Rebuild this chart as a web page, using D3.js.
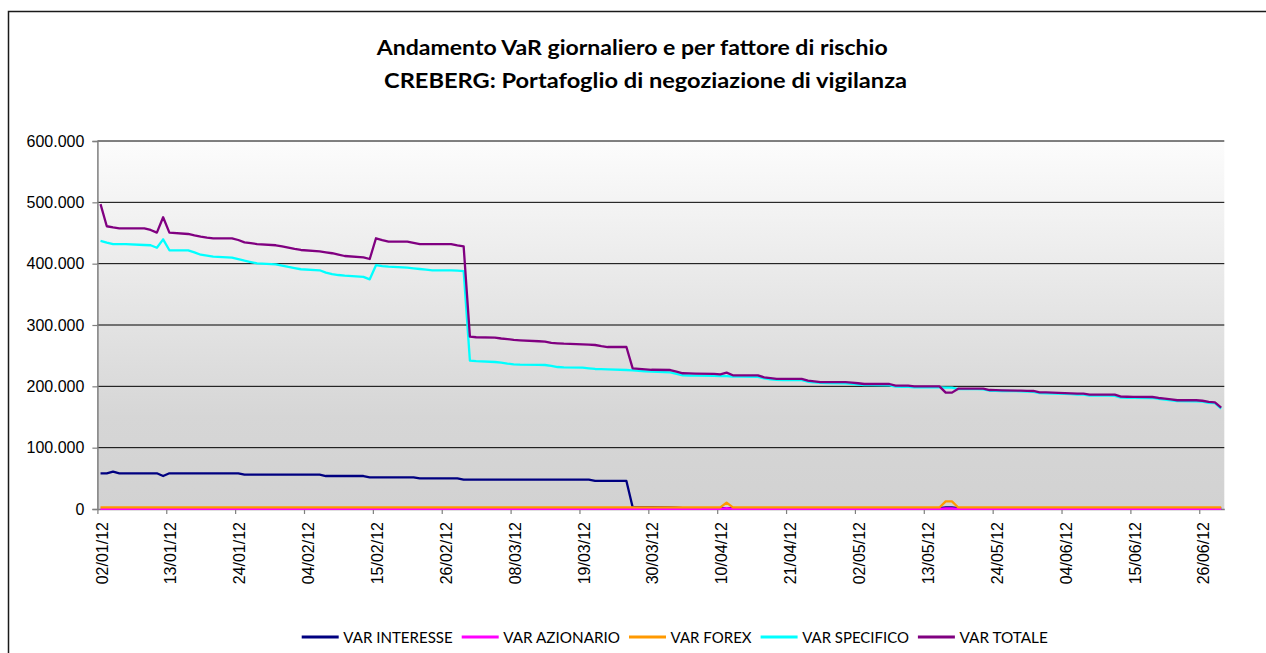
<!DOCTYPE html>
<meta charset="utf-8">
<script src="https://d3js.org/d3.v7.min.js"></script>
<style>
  body { margin: 0; background: #fff; }
  text { font-family: Lato, "Open Sans", sans-serif; fill: #000; }
</style>
<div id="chart"></div>
<script>

// working days of the first half of 2012
var dates = [
  "02/01/12","03/01/12","04/01/12","05/01/12","06/01/12","09/01/12","10/01/12","11/01/12","12/01/12","13/01/12","16/01/12","17/01/12","18/01/12","19/01/12","20/01/12","23/01/12","24/01/12","25/01/12","26/01/12","27/01/12","30/01/12","31/01/12",
  "01/02/12","02/02/12","03/02/12","06/02/12","07/02/12","08/02/12","09/02/12","10/02/12","13/02/12","14/02/12","15/02/12","16/02/12","17/02/12","20/02/12","21/02/12","22/02/12","23/02/12","24/02/12","27/02/12","28/02/12","29/02/12",
  "01/03/12","02/03/12","05/03/12","06/03/12","07/03/12","08/03/12","09/03/12","12/03/12","13/03/12","14/03/12","15/03/12","16/03/12","19/03/12","20/03/12","21/03/12","22/03/12","23/03/12","26/03/12","27/03/12","28/03/12","29/03/12","30/03/12",
  "02/04/12","03/04/12","04/04/12","05/04/12","06/04/12","09/04/12","10/04/12","11/04/12","12/04/12","13/04/12","16/04/12","17/04/12","18/04/12","19/04/12","20/04/12","23/04/12","24/04/12","25/04/12","26/04/12","27/04/12","30/04/12",
  "01/05/12","02/05/12","03/05/12","04/05/12","07/05/12","08/05/12","09/05/12","10/05/12","11/05/12","14/05/12","15/05/12","16/05/12","17/05/12","18/05/12","21/05/12","22/05/12","23/05/12","24/05/12","25/05/12","28/05/12","29/05/12","30/05/12","31/05/12",
  "01/06/12","04/06/12","05/06/12","06/06/12","07/06/12","08/06/12","11/06/12","12/06/12","13/06/12","14/06/12","15/06/12","18/06/12","19/06/12","20/06/12","21/06/12","22/06/12","25/06/12","26/06/12","27/06/12","28/06/12","29/06/12"
];

// values in thousands of euro
var varInteresse = [
  58.2,58.2,60.9,58.2,58.2,58.2,58.2,58.2,53.8,58.2,58.2,58.2,58.2,58.2,58.2,58.2,58.2,56,56,56,56,56,
  56,56,56,56,53.8,53.8,53.8,53.8,53.8,51.7,51.7,51.7,51.7,51.7,51.7,50,50,50,50,50,47.8,
  47.8,47.8,47.8,47.8,47.8,47.8,47.8,47.8,47.8,47.8,47.8,47.8,47.8,47.8,45.7,45.7,45.7,45.7,3,3,3,3,
  2.5,2,1.5,1.5,1.5,1.5,1.5,1.5,1.5,1.5,1.5,1.5,1.5,1.5,1.5,1.5,1.5,1.5,1.5,1.5,1.5,
  1.5,1.5,1.5,1.5,1.5,1.5,1.5,1.5,1.5,1.5,1.5,2.5,2.5,1.5,1.5,1.5,1.5,1.5,1.5,1.5,1.5,1.5,1.5,
  1.5,1.5,1.5,1.5,1.5,1.5,1.5,1.5,1.5,1.5,1.5,1.5,1.5,1.5,1.5,1.5,1.5,1.5,1.5,1.5,1.5
];
var varAzionario = [
  0.3,0.3,0.3,0.3,0.3,0.3,0.3,0.3,0.3,0.3,0.3,0.3,0.3,0.3,0.3,0.3,0.3,0.3,0.3,0.3,0.3,0.3,
  0.3,0.3,0.3,0.3,0.3,0.3,0.3,0.3,0.3,0.3,0.3,0.3,0.3,0.3,0.3,0.3,0.3,0.3,0.3,0.3,0.3,
  0.3,0.3,0.3,0.3,0.3,0.3,0.3,0.3,0.3,0.3,0.3,0.3,0.3,0.3,0.3,0.3,0.3,0.3,0.3,0.3,0.3,0.3,
  0.3,0.3,0.3,0.3,0.3,0.3,0.3,1.2,0.3,0.3,0.3,0.3,0.3,0.3,0.3,0.3,0.3,0.3,0.3,0.3,0.3,
  0.3,0.3,0.3,0.3,0.3,0.3,0.3,0.3,0.3,0.3,0.3,0.8,0.8,0.3,0.3,0.3,0.3,0.3,0.3,0.3,0.3,0.3,0.3,
  0.3,0.3,0.3,0.3,0.3,0.3,0.3,0.3,0.3,0.3,0.3,0.3,0.3,0.3,0.3,0.3,0.3,0.3,0.3,0.3,0.3
];
var varForex = [
  2.5,2.5,2.5,2.5,2.5,2.5,2.5,2.5,2.5,2.5,2.5,2.5,2.5,2.5,2.5,2.5,2.5,2.5,2.5,2.5,2.5,2.5,
  2.5,2.5,2.5,2.5,2.5,2.5,2.5,2.5,2.5,2.5,2.5,2.5,2.5,2.5,2.5,2.5,2.5,2.5,2.5,2.5,2.5,
  2.5,2.5,2.5,2.5,2.5,2.5,2.5,2.5,2.5,2.5,2.5,2.5,2.5,2.5,2.5,2.5,2.5,2.5,2.5,2.5,2.5,2.5,
  2.5,2.5,2.5,2.5,2.5,2.5,2.5,10.5,2.5,2.5,2.5,2.5,2.5,2.5,2.5,2.5,2.5,2.5,2.5,2.5,2.5,
  2.5,2.5,2.5,2.5,2.5,2.5,2.5,2.5,2.5,2.5,2.5,12.5,12.5,2.5,2.5,2.5,2.5,2.5,2.5,2.5,2.5,2.5,2.5,
  2.5,2.5,2.5,2.5,2.5,2.5,2.5,2.5,2.5,2.5,2.5,2.5,2.5,2.5,2.5,2.5,2.5,2.5,2.5,2.5,2.5
];
var varSpecifico = [
  437,434.2,432,432,432,430.4,430,426,439.7,421.8,421.8,418.5,414.6,413,411.4,409.8,407.5,404.9,402.7,400.6,399,397,
  394.6,392.7,390.9,389.2,385.3,383,381.5,380.5,378.5,374.5,397.5,396,395.1,393.5,392.4,391.3,390.2,389.2,389.2,388.5,388,
  241.8,241,239.7,238.5,237,235.9,235.5,235,234.8,233.5,231.5,231,230.4,229.4,228.3,228,227.5,226.6,226,225.2,224.5,224,
  222.9,220.5,218,217.7,217.4,217,216.7,216.5,216,215.8,215.5,213,211.5,210.5,210.3,210,207.5,206.5,205.5,205.3,205,
  204,203,202,202,201.7,199.5,199.3,199,198.4,198.4,198.2,198,198,195.5,195.3,195,192.8,192.6,192.4,192,191.5,191,189,
  188.6,187.8,187.2,186.7,186.5,185,184.8,184.6,181.6,181.4,181.2,181,179.5,178.5,177.3,175.8,175.6,175,173,172.6,163.5
];
var varTotale = [
  497,461,459,457.7,457.7,457.7,455,450.6,475.6,450.6,448.4,446,444,442.5,441.4,441.4,438.6,434.8,433.5,432,430,428,
  426,424,422.3,420,418.5,417,414.7,412.5,410.4,407.6,441.4,438.5,435.9,435.9,434,432,432,432,432,430,428.3,
  281,280,279.4,278,277,275.6,275,273.5,272.8,270.7,270.2,269.6,268.5,268,267.4,265.5,264.1,264.1,229.4,228.6,227.8,227,
  226.6,224,221.3,221,220.7,220.2,219.6,222.3,218,218,218,214.7,213.4,212,212,212,209.2,208,207,207,207,
  206,205,203.8,203.8,203.8,201,201,201,200,200,200,189.7,189.7,196.2,196.2,196.2,194,193.8,193.5,193,192.7,192.4,190.3,
  190,189,188.5,188,188,186.4,186.4,186.4,183.1,183,182.8,182.6,181,180,178.9,177.3,177.3,176.5,174.5,174,165.2
];

var seriesNames = ["VAR INTERESSE", "VAR AZIONARIO", "VAR FOREX", "VAR SPECIFICO", "VAR TOTALE"];
var seriesColors = ["#000080", "#ff00ff", "#ff9900", "#00ffff", "#800080"];
var seriesValues = [varInteresse, varAzionario, varForex, varSpecifico, varTotale];

var yTicks = [0, 100, 200, 300, 400, 500, 600];
var xTickLabels = ["02/01/12","13/01/12","24/01/12","04/02/12","15/02/12","26/02/12","08/03/12","19/03/12","30/03/12",
  "10/04/12","21/04/12","02/05/12","13/05/12","24/05/12","04/06/12","15/06/12","26/06/12"];

var titleLines = ["Andamento VaR giornaliero e per fattore di rischio", "CREBERG: Portafoglio di negoziazione di vigilanza"];

var width = 1266, height = 653;
var plot = {left: 97.4, right: 1224.3, top: 141, bottom: 509};

var parse = d3.utcParse("%d/%m/%y");
var it = d3.formatLocale({decimal: ",", thousands: ".", grouping: [3], currency: ["€", ""]});
var fmt = it.format(",.0f");

var svg = d3.select("#chart").append("svg")
    .attr("width", width)
    .attr("height", height);

// chart border
svg.append("rect")
    .attr("x", 8.5).attr("y", 11.5)
    .attr("width", 1300).attr("height", 700)
    .attr("fill", "#fff")
    .attr("stroke", "#1a1a1a")
    .attr("stroke-width", 1.5);

// plot background gradient
var grad = svg.append("defs").append("linearGradient")
    .attr("id", "bg").attr("x1", 0).attr("y1", 0).attr("x2", 0).attr("y2", 1);
grad.append("stop").attr("offset", "0%").attr("stop-color", "#fcfcfc");
grad.append("stop").attr("offset", "75%").attr("stop-color", "#d6d6d6");
grad.append("stop").attr("offset", "100%").attr("stop-color", "#d2d2d2");

var x = d3.scaleUtc()
    .domain([parse("02/01/12"), parse("30/06/12")])
    .range([plot.left, plot.right]);

var y = d3.scaleLinear()
    .domain([0, 600])
    .range([plot.bottom, plot.top]);

svg.append("rect")
    .attr("x", plot.left).attr("y", plot.top)
    .attr("width", plot.right - plot.left).attr("height", plot.bottom - plot.top)
    .attr("fill", "url(#bg)");

// gridlines
svg.append("g")
  .selectAll("line")
  .data(yTicks.filter(function(d) { return d > 0; }))
  .enter().append("line")
    .attr("x1", plot.left).attr("x2", plot.right)
    .attr("y1", function(d) { return y(d); })
    .attr("y2", function(d) { return y(d); })
    .attr("stroke", "#000")
    .attr("stroke-width", 1);

// y axis
var yAxis = svg.append("g")
    .attr("transform", "translate(" + plot.left + ",0)")
    .call(d3.axisLeft(y).tickValues(yTicks).tickSize(5).tickPadding(8)
      .tickFormat(function(d) { return fmt(d * 1000); }));
yAxis.select(".domain").attr("stroke", "#7f7f7f").attr("stroke-width", 1.5);
yAxis.selectAll(".tick line").attr("stroke", "#7f7f7f").attr("stroke-width", 1.2);
yAxis.selectAll(".tick text")
    .style("font-family", "'Liberation Sans', Arial, sans-serif")
    .style("font-size", "16px");

// x axis
var xTicks = xTickLabels.map(parse);
var xAxis = svg.append("g")
    .attr("transform", "translate(0," + plot.bottom + ")")
    .call(d3.axisBottom(x).tickValues(xTicks).tickSize(5).tickSizeOuter(0)
      .tickFormat(function(d, i) { return xTickLabels[i]; }));
xAxis.select(".domain").attr("stroke", "#7f7f7f").attr("stroke-width", 1.5);
xAxis.selectAll(".tick line").attr("stroke", "#7f7f7f").attr("stroke-width", 1.2);
xAxis.selectAll(".tick text")
    .style("font-family", "'Liberation Sans', Arial, sans-serif")
    .style("font-size", "16px")
    .attr("text-anchor", "end")
    .attr("dy", "0.35em")
    .attr("transform", "translate(4,13) rotate(-90)")
    .attr("x", 0).attr("y", 0);

// series lines, points sit in the middle of their day
var line = d3.line()
    .x(function(d) { return x(d3.utcHour.offset(parse(d.date), 12)); })
    .y(function(d) { return y(d.value); });

seriesValues.forEach(function(vals, s) {
  var data = dates.map(function(dt, i) { return {date: dt, value: vals[i]}; });
  svg.append("path")
      .datum(data)
      .attr("fill", "none")
      .attr("stroke", seriesColors[s])
      .attr("stroke-width", 2.3)
      .attr("stroke-linejoin", "round")
      .attr("d", line);
});

// title (left edge and width)
var titleX = [376.7, 384], titleW = [511, 523];
svg.append("g").selectAll("text")
    .data(titleLines)
    .enter().append("text")
    .attr("x", function(d, i) { return titleX[i]; })
    .attr("y", function(d, i) { return 55 + i * 33; })
    .attr("textLength", function(d, i) { return titleW[i]; })
    .attr("lengthAdjust", "spacingAndGlyphs")
    .style("font-weight", "bold")
    .style("font-size", "21px")
    .text(function(d) { return d; });

// legend
var legendW = [109.4, 116.7, 81, 106.7, 88.3];
var legend = svg.append("g").attr("transform", "translate(0,637)");
var lx = 301.7;
seriesNames.forEach(function(name, s) {
  legend.append("line")
      .attr("x1", lx).attr("x2", lx + 37)
      .attr("y1", 0).attr("y2", 0)
      .attr("stroke", seriesColors[s])
      .attr("stroke-width", 2.8);
  legend.append("text")
      .attr("x", lx + 41.6)
      .attr("dy", "0.36em")
      .attr("textLength", legendW[s])
      .attr("lengthAdjust", "spacingAndGlyphs")
      .style("font-size", "15.5px")
      .text(name);
  lx += 41.6 + legendW[s] + 9;
});
</script>
